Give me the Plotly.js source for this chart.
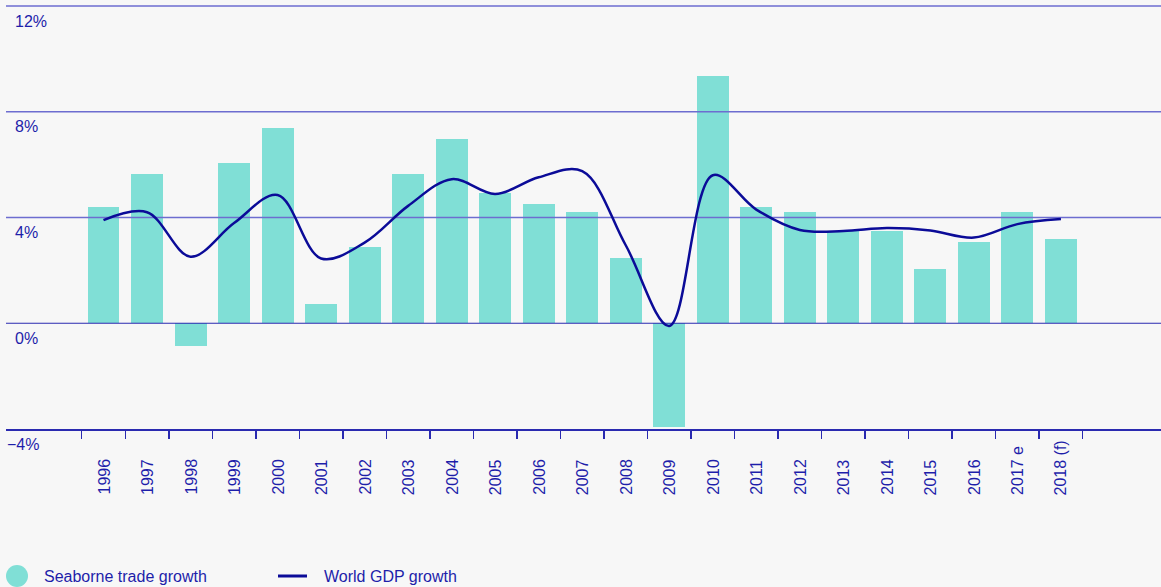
<!DOCTYPE html>
<html>
<head>
<meta charset="utf-8">
<script src="https://cdn.plot.ly/plotly-3.0.1.min.js"></script>
<style>
  html, body { margin: 0; padding: 0; background: #f7f7f7; }
  #chart { width: 1161px; height: 587px; }
</style>
</head>
<body>
<div id="chart"></div>
<script>
// ---- Data ----
const categories = ['1996','1997','1998','1999','2000','2001','2002','2003','2004','2005','2006','2007','2008','2009','2010','2011','2012','2013','2014','2015','2016','2017 e','2018 (f)'];
const seaborneTrade = [4.4, 5.65, -0.85, 6.07, 7.39, 0.73, 2.89, 5.65, 6.97, 4.94, 4.52, 4.21, 2.47, -3.91, 9.36, 4.4, 4.21, 3.49, 3.49, 2.06, 3.08, 4.21, 3.19];
const worldGDP = [3.9, 4.2, 2.52, 3.79, 4.85, 2.45, 3.05, 4.44, 5.45, 4.89, 5.52, 5.75, 2.95, -0.1, 5.6, 4.3, 3.53, 3.49, 3.6, 3.51, 3.24, 3.75, 3.94];
const yTickVals = [12, 8, 4, 0, -4];
const gridLightVals = [12, 8, 4];
const gridDarkVals = [0];
const seriesNames = ['Seaborne trade growth', 'World GDP growth'];

// ---- Style / layout constants ----
const W = 1161, H = 587;
const M = { l: 6, r: 0, t: 0, b: 158 };
const plotW = W - M.l - M.r, plotH = H - M.t - M.b;
const unitPx = 43.52;
const firstCenterPx = 103.5;
const xr0 = -(firstCenterPx - M.l) / unitPx;
const xr1 = xr0 + plotW / unitPx;
const yr = [-4, 12.227];

const TEAL = '#80dfd6';
const NAVY = '#0b0b98';
const TEXT = '#1e1eaa';
const GRID = '#6d6dd0';
const AXIS = '#2a2ab0';
const FONT = 'Liberation Sans, Arial, sans-serif';

const px2paperX = px => (px - M.l) / plotW;
const px2paperY = py => (M.t + plotH - py) / plotH;

const idx = categories.map((c, i) => i);

function hLines(vals) {
  const xs = [], ys = [];
  vals.forEach((v, k) => {
    if (k > 0) { xs.push(null); ys.push(null); }
    xs.push(xr0, xr1); ys.push(v, v);
  });
  return { xs, ys };
}
const gl = hLines(gridLightVals);
const gd = hLines(gridDarkVals);

const traces = [
  {
    type: 'bar', x: idx, y: seaborneTrade, name: seriesNames[0],
    width: 0.735, marker: { color: TEAL, line: { width: 0 } },
    showlegend: false, hoverinfo: 'skip'
  },
  {
    type: 'scatter', mode: 'lines', x: gl.xs, y: gl.ys,
    line: { color: GRID, width: 1.5 }, showlegend: false, hoverinfo: 'skip', cliponaxis: false
  },
  {
    type: 'scatter', mode: 'lines', x: gd.xs, y: gd.ys,
    line: { color: AXIS, width: 1.2 }, showlegend: false, hoverinfo: 'skip'
  },
  {
    type: 'scatter', mode: 'lines', x: idx, y: worldGDP, name: seriesNames[1],
    line: { color: NAVY, width: 2.5, shape: 'spline', smoothing: 1 },
    showlegend: false, hoverinfo: 'skip'
  }
];

const annotations = [];
// y tick labels (below each gridline)
yTickVals.forEach(v => {
  annotations.push({
    xref: 'paper', yref: 'y', x: px2paperX(13), y: v,
    xanchor: 'left', yanchor: 'middle', yshift: -15, xshift: v < 0 ? -8 : 0,
    text: (v < 0 ? '\u2212' + Math.abs(v) : String(v)) + '%',
    showarrow: false, font: { family: FONT, size: 16, color: TEXT }
  });
});
// x category labels (rotated, bottom aligned)
categories.forEach((c, i) => {
  annotations.push({
    xref: 'x', yref: 'paper', x: i, y: px2paperY(497),
    xanchor: 'center', yanchor: 'bottom', textangle: -90,
    text: c, showarrow: false, font: { family: FONT, size: 16, color: TEXT }
  });
});
// legend texts
annotations.push({
  xref: 'paper', yref: 'paper', x: px2paperX(42), y: px2paperY(576),
  xanchor: 'left', yanchor: 'middle', text: seriesNames[0], showarrow: false,
  font: { family: FONT, size: 16, color: TEXT }
});
annotations.push({
  xref: 'paper', yref: 'paper', x: px2paperX(322), y: px2paperY(576),
  xanchor: 'left', yanchor: 'middle', text: seriesNames[1], showarrow: false,
  font: { family: FONT, size: 16, color: TEXT }
});

const shapes = [
  { type: 'circle', xref: 'paper', yref: 'paper',
    x0: px2paperX(6), x1: px2paperX(28), y0: px2paperY(565), y1: px2paperY(587),
    fillcolor: TEAL, line: { width: 0 } },
  { type: 'line', xref: 'paper', yref: 'paper',
    x0: px2paperX(278), x1: px2paperX(307), y0: px2paperY(576), y1: px2paperY(576),
    line: { color: NAVY, width: 3 } }
];

const layout = {
  width: W, height: H,
  margin: M,
  paper_bgcolor: '#f7f7f7', plot_bgcolor: '#f7f7f7',
  showlegend: false,
  bargap: 0,
  xaxis: {
    type: 'linear', range: [xr0, xr1], fixedrange: true,
    showgrid: false, zeroline: false,
    showline: true, linecolor: AXIS, linewidth: 1.5,
    tickmode: 'array', tickvals: categories.map((c, i) => i - 0.5).concat([categories.length - 0.5]),
    ticktext: categories.map(() => '').concat(['']),
    ticks: 'outside', ticklen: 8, tickwidth: 1.5, tickcolor: AXIS,
    showticklabels: false
  },
  yaxis: {
    range: yr, fixedrange: true,
    showgrid: false, zeroline: false, showline: false,
    showticklabels: false, ticks: ''
  },
  font: { family: FONT, color: TEXT },
  annotations: annotations,
  shapes: shapes
};

Plotly.newPlot('chart', traces, layout, { displayModeBar: false, staticPlot: true });
</script>
</body>
</html>
